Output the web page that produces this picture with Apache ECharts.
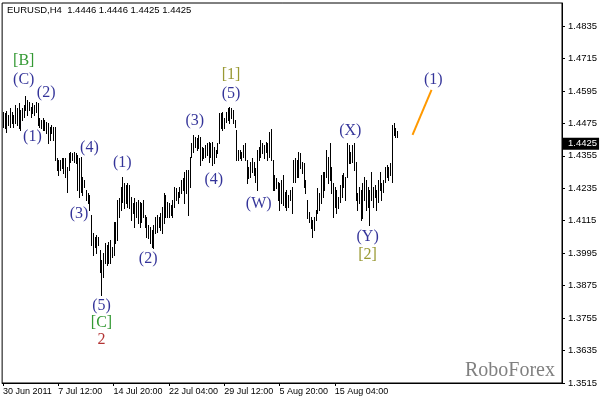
<!DOCTYPE html>
<html><head><meta charset="utf-8">
<script src="https://cdn.jsdelivr.net/npm/echarts@6/dist/echarts.min.js"></script>
<style>html,body{margin:0;padding:0;background:#fff}#c{width:602px;height:401px}</style>
</head><body><div id="c"></div>
<script>
// ---- data (EURUSD H4 bars: high / low) ----
const highs = [
1.4518,1.4512,1.4522,1.4506,1.4531,1.4518,1.4506,1.4543,1.4531,1.4549,
1.4525,1.4531,1.4543,1.4576,1.4562,1.4555,1.4537,1.4549,1.4543,1.4555,
1.4552,1.4494,1.4488,1.4494,1.4488,1.4481,1.4475,1.4463,1.4469,1.4463,
1.4463,1.4346,1.4340,1.4340,1.4346,1.4346,1.4346,1.4315,1.4364,1.4370,
1.4364,1.4370,1.4364,1.4358,1.4346,1.4352,1.4278,1.4266,1.4229,1.4216,
1.4210,1.4136,1.4068,1.4056,1.4062,1.4056,1.4007,1.3970,1.3994,1.4031,
1.4025,1.4037,1.4044,1.4019,1.4111,1.4111,1.4192,1.4198,1.4241,1.4278,
1.4253,1.4247,1.4253,1.4247,1.4204,1.4179,1.4198,1.4185,1.4192,1.4185,
1.4179,1.4192,1.4136,1.4130,1.4099,1.4093,1.4081,1.4099,1.4130,1.4136,
1.4130,1.4142,1.4167,1.4216,1.4210,1.4185,1.4179,1.4173,1.4192,1.4241,
1.4235,1.4222,1.4241,1.4266,1.4272,1.4296,1.4303,1.4303,1.4352,1.4401,
1.4432,1.4426,1.4420,1.4432,1.4426,1.4389,1.4383,1.4395,1.4401,1.4407,
1.4401,1.4407,1.4389,1.4377,1.4401,1.4512,1.4512,1.4518,1.4494,1.4518,
1.4531,1.4537,1.4531,1.4525,1.4488,1.4451,1.4377,1.4377,1.4370,1.4395,
1.4401,1.4340,1.4315,1.4333,1.4346,1.4333,1.4309,1.4377,1.4389,1.4414,
1.4401,1.4395,1.4407,1.4401,1.4444,1.4454,1.4340,1.4284,1.4272,1.4259,
1.4253,1.4266,1.4284,1.4222,1.4229,1.4210,1.4229,1.4241,1.4340,1.4346,
1.4340,1.4370,1.4364,1.4333,1.4327,1.4266,1.4192,1.4148,1.4130,1.4118,
1.4130,1.4155,1.4235,1.4216,1.4284,1.4296,1.4296,1.4377,1.4352,1.4401,
1.4315,1.4253,1.4241,1.4229,1.4204,1.4247,1.4284,1.4290,1.4278,1.4401,
1.4395,1.4370,1.4395,1.4401,1.4333,1.4216,1.4241,1.4229,1.4253,1.4278,
1.4266,1.4241,1.4229,1.4296,1.4241,1.4247,1.4229,1.4266,1.4296,1.4253,
1.4266,1.4315,1.4321,1.4315,1.4327,1.4469,1.4475,1.4457,1.4446
];
const lows = [
1.4463,1.4457,1.4444,1.4469,1.4463,1.4475,1.4463,1.4475,1.4469,1.4457,
1.4451,1.4488,1.4500,1.4525,1.4506,1.4525,1.4500,1.4512,1.4506,1.4518,
1.4469,1.4463,1.4457,1.4451,1.4451,1.4438,1.4401,1.4414,1.4438,1.4414,
1.4340,1.4303,1.4284,1.4303,1.4309,1.4290,1.4278,1.4222,1.4303,1.4333,
1.4340,1.4333,1.4327,1.4229,1.4204,1.4222,1.4210,1.4241,1.4192,1.4179,
1.4155,1.4025,1.3988,1.4019,1.3994,1.4025,1.3926,1.3840,1.3908,1.3957,
1.3951,1.3957,1.3957,1.3982,1.3988,1.4031,1.4044,1.4130,1.4155,1.4185,
1.4161,1.4179,1.4167,1.4161,1.4118,1.4142,1.4093,1.4130,1.4105,1.4093,
1.4111,1.4130,1.4093,1.4056,1.4050,1.4031,1.4019,1.4013,1.4068,1.4074,
1.4093,1.4081,1.4068,1.4105,1.4130,1.4130,1.4130,1.4136,1.4130,1.4167,
1.4192,1.4179,1.4204,1.4216,1.4229,1.4179,1.4216,1.4136,1.4241,1.4352,
1.4370,1.4389,1.4377,1.4383,1.4321,1.4340,1.4346,1.4352,1.4358,1.4333,
1.4352,1.4321,1.4327,1.4352,1.4364,1.4401,1.4457,1.4451,1.4457,1.4481,
1.4488,1.4475,1.4494,1.4475,1.4463,1.4340,1.4340,1.4346,1.4340,1.4352,
1.4340,1.4253,1.4272,1.4278,1.4296,1.4284,1.4259,1.4229,1.4340,1.4352,
1.4364,1.4346,1.4370,1.4340,1.4352,1.4340,1.4229,1.4229,1.4235,1.4192,
1.4155,1.4179,1.4173,1.4167,1.4155,1.4167,1.4192,1.4142,1.4259,1.4259,
1.4278,1.4278,1.4309,1.4290,1.4241,1.4216,1.4124,1.4111,1.4087,1.4056,
1.4081,1.4118,1.4142,1.4155,1.4179,1.4204,1.4229,1.4278,1.4253,1.4266,
1.4216,1.4130,1.4167,1.4142,1.4161,1.4185,1.4204,1.4241,1.4192,1.4278,
1.4327,1.4327,1.4333,1.4303,1.4192,1.4155,1.4179,1.4118,1.4124,1.4192,
1.4155,1.4167,1.4099,1.4192,1.4167,1.4204,1.4155,1.4185,1.4229,1.4192,
1.4222,1.4259,1.4278,1.4266,1.4284,1.4259,1.4432,1.4426,1.4425
];
const slotCount = 324;                      // bar slots incl. empty right margin
const categories = Array.from({length: slotCount}, (_, i) => i);
const xTickIdx = [0, 32, 64, 96, 128, 160, 192];
const xTickLabels = ['30 Jun 2011', '7 Jul 12:00', '14 Jul 20:00', '22 Jul 04:00', '29 Jul 12:00', '5 Aug 20:00', '15 Aug 04:00'];
const yMin = 1.3515, yMax = 1.4920, yStep = 0.012;
const headerOHLC = [1.4446, 1.4446, 1.4425, 1.4425];
const lastPrice = 1.4425;
const annoText  = ['[B]','(C)','(2)','(1)','(4)','(3)','(1)','(2)','(5)','[C]','2','(3)','(4)','[1]','(5)','(W)','(X)','(Y)','[2]','(1)'];
const annoIdx   = [12,12,25,17,50,44,69,84,57,57,57,111,122,132,132,148,201,211,211,249];
const annoPrice = [1.4706,1.4636,1.4587,1.4425,1.4384,1.4140,1.4328,1.3973,1.3799,1.3736,1.3674,1.4484,1.4266,1.4654,1.4584,1.4177,1.4447,1.4055,1.3988,1.4636];
const projIdx   = [237, 248];
const projPrice = [1.4432, 1.4599];

// ---- styles ----
function annoColor(t) {
  if (t === '[B]' || t === '[C]') return '#008000';
  if (t === '[1]' || t === '[2]') return '#808000';
  if (t === '2') return '#a00000';
  return '#000080';
}

const barData = highs.map((h, i) => [i, h, lows[i]]);
const annoData = annoText.map((t, i) => ({
  value: [annoIdx[i], annoPrice[i]], name: t,
  label: { color: annoColor(t) }
}));

const chart = echarts.init(document.getElementById('c'), null, {renderer: 'canvas'});
chart.setOption({
  animation: false,
  backgroundColor: '#fff',
  grid: { left: 2, right: 40, top: 3, bottom: 18, show: true, borderColor: '#000', borderWidth: 1, containLabel: false },
  xAxis: {
    type: 'category', data: categories, boundaryGap: true,
    axisLine: { show: true, lineStyle: { color: '#000', width: 1 } },
    axisTick: { show: true, interval: (i) => xTickIdx.includes(i), alignWithLabel: true, length: 3, lineStyle: { color: '#000' } },
    axisLabel: {
      interval: (i) => xTickIdx.includes(i),
      formatter: (v, i) => { const k = xTickIdx.indexOf(Number(v)); return k >= 0 ? xTickLabels[k] : ''; },
      align: 'left', margin: 4, fontSize: 9, color: '#000', fontFamily: 'Liberation Sans'
    },
    splitLine: { show: false }
  },
  yAxis: {
    type: 'value', position: 'right', min: yMin, max: yMax, interval: yStep,
    axisLine: { show: true, lineStyle: { color: '#000' } },
    axisTick: { show: true, length: 3, lineStyle: { color: '#000' } },
    axisLabel: { showMaxLabel: false, formatter: (v) => v.toFixed(4), margin: 6, fontSize: 9.5, color: '#000', fontFamily: 'Liberation Sans' },
    splitLine: { show: false }
  },
  series: [
    {
      type: 'custom', silent: true, data: barData,
      encode: { x: 0, y: [1, 2] },
      renderItem: (params, api) => {
        const top = api.coord([api.value(0), api.value(1)]);
        const bot = api.coord([api.value(0), api.value(2)]);
        const x = Math.round(top[0]) + 0.5;
        return { type: 'line', shape: { x1: x, y1: Math.round(top[1]), x2: x, y2: Math.round(bot[1]) + 1 },
                 style: { stroke: '#000', lineWidth: 1 } };
      }
    },
    {
      type: 'line', silent: true, data: projIdx.map((x, i) => [x, projPrice[i]]),
      symbol: 'none', lineStyle: { color: '#ff9900', width: 2 },
      markLine: {
        silent: true, symbol: 'none', animation: false,
        lineStyle: { color: 'transparent', width: 1, type: 'solid' },
        data: [{ yAxis: lastPrice }],
        label: { show: true, position: 'end', distance: 1, formatter: lastPrice.toFixed(4),
                 color: '#fff', backgroundColor: '#000', padding: [1, 2, 1, 5], fontSize: 9.5, fontFamily: 'Liberation Sans' }
      }
    },
    {
      type: 'scatter', silent: true, data: annoData, symbolSize: 0, itemStyle: { color: 'transparent' },
      label: { show: true, position: 'inside', formatter: '{b}', fontSize: 16, fontFamily: 'Liberation Serif' }
    }
  ],
  graphic: [
    { type: 'text', left: 7, top: 5, silent: true,
      style: { text: 'EURUSD,H4  ' + headerOHLC.map(v => v.toFixed(4)).join(' '), fill: '#000', font: '9.5px "Liberation Sans"' } },
    { type: 'text', right: 47, top: 361, silent: true,
      style: { text: 'RoboForex', fill: '#808080', font: '20px "Liberation Serif"' } }
  ]
});
</script>
</body></html>
